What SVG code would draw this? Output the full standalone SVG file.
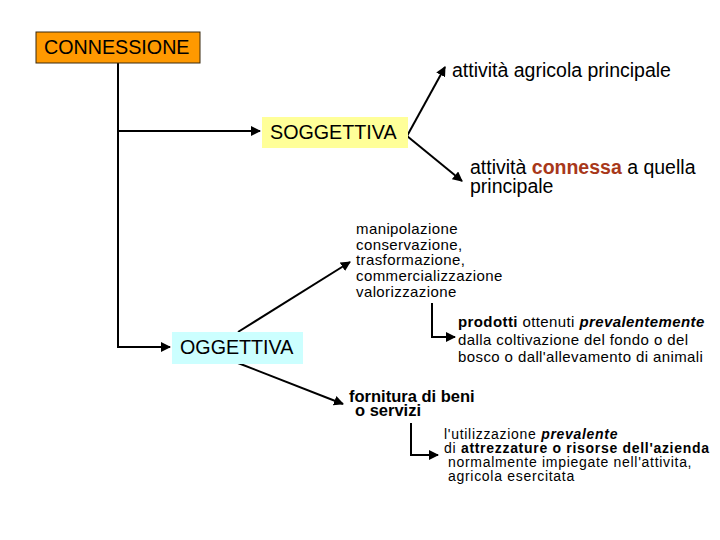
<svg xmlns="http://www.w3.org/2000/svg" width="720" height="540" viewBox="0 0 720 540">
<style>
text{font-family:"Liberation Sans",Arial,sans-serif;fill:#000}
.big{font-size:19.7px}
.mid{font-size:19.5px}
.fs{font-size:16.5px;font-weight:bold}
.xs{font-size:15px;letter-spacing:0.4px}
.ts{font-size:14px;letter-spacing:0.7px}
.ln{stroke:#000;stroke-width:2;fill:none}
</style>
<defs>
<marker id="ah" viewBox="0 0 10 10" refX="9" refY="5" markerWidth="5" markerHeight="5" orient="auto" markerUnits="strokeWidth">
<path d="M0,0 L10,5 L0,10 z" fill="#000"/>
</marker>
</defs>
<rect width="720" height="540" fill="#fff"/>
<g id="connectors">
<path class="ln" d="M118,63 V347 H170" marker-end="url(#ah)"/>
<path class="ln" d="M118,131 H260" marker-end="url(#ah)"/>
<path class="ln" d="M407,136 L445,67" marker-end="url(#ah)"/>
<path class="ln" d="M407,136 L462,181" marker-end="url(#ah)"/>
<path class="ln" d="M238,332 L350,262" marker-end="url(#ah)"/>
<path class="ln" d="M238,363 L343,404" marker-end="url(#ah)"/>
<path class="ln" d="M432,303 V337 H455" marker-end="url(#ah)"/>
<path class="ln" d="M411,423 V455 H438" marker-end="url(#ah)"/>
</g>
<g id="connessione">
<rect x="36" y="32" width="164" height="31" fill="#FF9900" stroke="#3a2a10" stroke-width="1"/>
<text x="44" y="54" class="big">CONNESSIONE</text>
</g>
<g id="soggettiva">
<rect x="262" y="117" width="146" height="31" fill="#FFFF99"/>
<text x="270" y="139" class="big">SOGGETTIVA</text>
</g>
<g id="oggettiva">
<rect x="172" y="332" width="131" height="32" fill="#CCFFFF"/>
<text x="180" y="354" class="big">OGGETTIVA</text>
</g>
<g id="agricola">
<text x="452" y="77" class="mid">attività agricola principale</text>
</g>
<g id="connessa">
<text x="470" y="174" class="mid">attività <tspan font-weight="bold" style="fill:#A8381A">connessa</tspan> a quella</text>
<text x="470" y="193" class="mid">principale</text>
</g>
<g id="manipolazione">
<text x="356" y="234" class="xs">manipolazione</text>
<text x="356" y="250" class="xs">conservazione,</text>
<text x="356" y="265" class="xs">trasformazione,</text>
<text x="356" y="281" class="xs">commercializzazione</text>
<text x="356" y="297" class="xs">valorizzazione</text>
</g>
<g id="prodotti">
<text x="458" y="327" class="xs"><tspan font-weight="bold">prodotti</tspan> ottenuti <tspan font-weight="bold" font-style="italic">prevalentemente</tspan></text>
<text x="458" y="345" class="xs">dalla coltivazione del fondo o del</text>
<text x="458" y="362" class="xs">bosco o dall'allevamento di animali</text>
</g>
<g id="fornitura">
<text x="349" y="402" class="fs">fornitura di beni</text>
<text x="355" y="416" class="fs">o  servizi</text>
</g>
<g id="utilizzazione">
<text x="444" y="439" class="ts">l'utilizzazione <tspan font-weight="bold" font-style="italic">prevalente</tspan></text>
<text x="444" y="453" class="ts">di <tspan font-weight="bold">attrezzature o risorse dell'azienda</tspan></text>
<text x="448" y="467" class="ts">normalmente impiegate nell'attivita,</text>
<text x="448" y="481" class="ts">agricola esercitata</text>
</g>
</svg>
